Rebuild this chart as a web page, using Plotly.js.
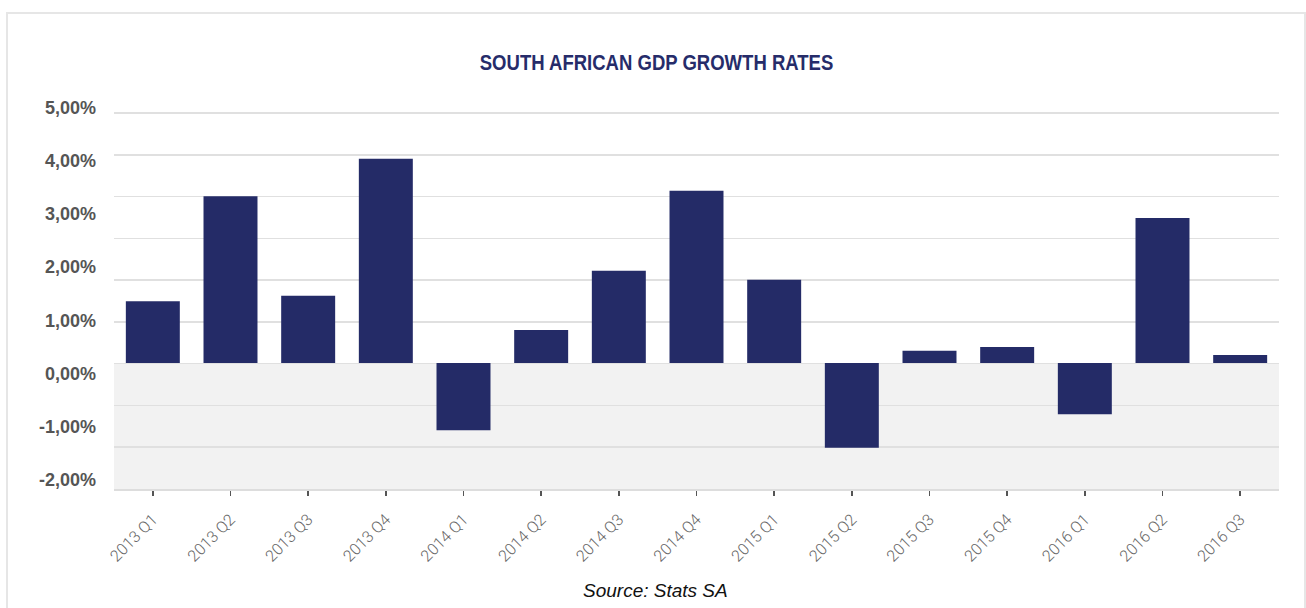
<!DOCTYPE html>
<html>
<head>
<meta charset="utf-8">
<script src="https://cdn.plot.ly/plotly-3.0.1.min.js"></script>
<style>
  html, body { margin: 0; padding: 0; background: #ffffff; }
  #chart { width: 1306px; height: 608px; position: relative; }
  #frame { position: absolute; left: 6px; top: 12px; width: 1300px; height: 640px;
           border: 2px solid #e6e6e6; box-sizing: border-box; pointer-events: none; }
</style>
</head>
<body>
<div id="chart"></div>
<div id="frame"></div>
<script>
// Data
const quarters = ['2013 Q1','2013 Q2','2013 Q3','2013 Q4','2014 Q1','2014 Q2','2014 Q3','2014 Q4',
                  '2015 Q1','2015 Q2','2015 Q3','2015 Q4','2016 Q1','2016 Q2','2016 Q3'];
const growthRates = [1.16, 3.13, 1.26, 3.83, -1.26, 0.62, 1.73, 3.23, 1.56, -1.59, 0.23, 0.30, -0.96, 2.72, 0.15];
const yTickVals = [-2, -1, 0, 1, 2, 3, 4, 5];
const yTickText = ['-2,00%', '-1,00%', '0,00%', '1,00%', '2,00%', '3,00%', '4,00%', '5,00%'];
const gridVals = [0, 1, 2, 3, 4, 5, 6, 7, 8, 9];

const dataRange = [-2.364, 4.934];
const labelRange = [-2.169, 5.137];
const gridRange = [0, 9.311];

const traces = [
  {
    type: 'bar',
    x: quarters,
    y: growthRates,
    marker: { color: '#242b67' },
    xaxis: 'x', yaxis: 'y',
    hoverinfo: 'x+y'
  },
  { type: 'scatter', mode: 'none', x: [], y: [], xaxis: 'x', yaxis: 'y2', showlegend: false, hoverinfo: 'skip' },
  { type: 'scatter', mode: 'none', x: [], y: [], xaxis: 'x', yaxis: 'y3', showlegend: false, hoverinfo: 'skip' }
];

const layout = {
  width: 1306,
  height: 608,
  margin: { l: 114, r: 27, t: 100, b: 119 },
  paper_bgcolor: 'rgba(0,0,0,0)',
  plot_bgcolor: 'rgba(0,0,0,0)',
  showlegend: false,
  bargap: 0.305,
  title: {
    text: 'SOUTH AFRICAN GDP GROWTH RATES',
    font: { family: 'Liberation Sans, Arial, sans-serif', size: 22, weight: 'bold', color: '#262c6a' },
    xref: 'container', x: 0.5027, xanchor: 'center',
    yref: 'container', y: 0.897, yanchor: 'middle'
  },
  xaxis: {
    type: 'category',
    showline: true, linecolor: '#dddddd', linewidth: 2,
    ticks: 'outside', ticklen: 5, tickwidth: 1.5, tickcolor: '#555555',
    tickangle: -45,
    ticklabelstandoff: 8,
    tickfont: { family: 'Roboto, Liberation Sans, sans-serif', size: 16, color: '#666666', weight: 300 },
    showgrid: false, zeroline: false, fixedrange: true
  },
  yaxis: {
    range: dataRange,
    showgrid: false, zeroline: false, showticklabels: false, ticks: '',
    fixedrange: true
  },
  yaxis2: {
    overlaying: 'y', side: 'left', anchor: 'x',
    range: labelRange,
    tickmode: 'array', tickvals: yTickVals, ticktext: yTickText,
    showgrid: false, zeroline: false, ticks: '',
    ticklabelstandoff: 17,
    tickfont: { family: 'Liberation Sans, Arial, sans-serif', size: 18, color: '#555555', weight: 'bold' },
    fixedrange: true
  },
  yaxis3: {
    overlaying: 'y', side: 'left', anchor: 'x',
    range: gridRange,
    tickmode: 'array', tickvals: gridVals,
    showgrid: true, gridcolor: '#e0e0e0', gridwidth: 1.5,
    showticklabels: false, zeroline: false, ticks: '',
    fixedrange: true
  },
  shapes: [
    {
      type: 'rect', layer: 'below',
      xref: 'x domain', x0: 0, x1: 1,
      yref: 'y', y0: dataRange[0], y1: 0,
      fillcolor: '#f2f2f2', line: { width: 0 }
    }
  ],
  annotations: [
    {
      text: 'Source: Stats SA',
      xref: 'paper', x: 0.4652, xanchor: 'center',
      yref: 'paper', y: -0.2622, yanchor: 'middle',
      showarrow: false,
      font: { family: 'Liberation Sans, Arial, sans-serif', size: 19, style: 'italic', color: '#111111' }
    }
  ]
};

Plotly.newPlot('chart', traces, layout, { displayModeBar: false, staticPlot: true }).then(function (gd) {
  // Condense the title horizontally to mimic the condensed bold face of the original.
  const t = gd.querySelector('.gtitle');
  if (t && t.getBBox) {
    const bb = t.getBBox();
    const cx = bb.x + bb.width / 2;
    t.setAttribute('transform', 'translate(' + cx + ' 0) scale(0.842 1) translate(' + (-cx) + ' 0)');
  }
});
</script>
</body>
</html>
